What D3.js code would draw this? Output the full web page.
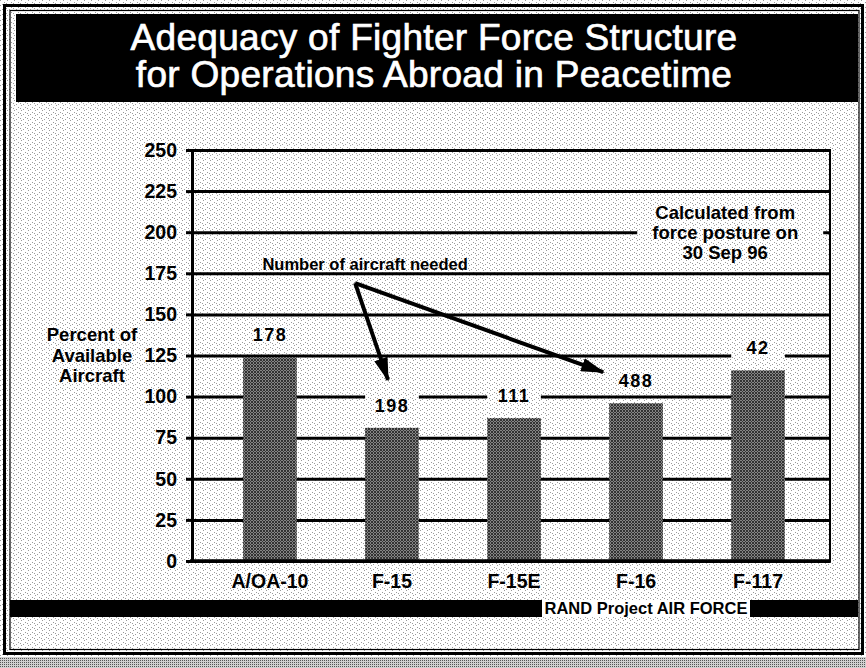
<!DOCTYPE html>
<html>
<head>
<meta charset="utf-8">
<script src="https://cdn.jsdelivr.net/npm/d3@7/dist/d3.min.js"></script>
<style>
  body { margin: 0; background: #fff; }
  svg { display: block; font-family: "Liberation Sans", Arial, Helvetica, sans-serif; }
  .tick text { font-weight: bold; font-size: 19.5px; fill: #000; }
</style>
</head>
<body>
<div id="chart"></div>
<script>
// values
const categories = ["A/OA-10", "F-15", "F-15E", "F-16", "F-117"];
const percentAvailable = [124, 81, 87, 96, 116];
const aircraftNeeded = [178, 198, 111, 488, 42];
const yTicks = [0, 25, 50, 75, 100, 125, 150, 175, 200, 225, 250];
const titleLines = ["Adequacy of Fighter Force Structure", "for Operations Abroad in Peacetime"];
const yLabelLines = ["Percent of", "Available", "Aircraft"];
const noteLines = ["Calculated from", "force posture on", "30 Sep 96"];
const arrowNote = "Number of aircraft needed";
const footer = "RAND Project AIR FORCE";

const W = 866, H = 668;
const plot = {left: 192, right: 830, top: 150, bottom: 561};

const svg = d3.select("#chart").append("svg")
  .attr("width", W)
  .attr("height", H);

const defs = svg.append("defs");

// light halftone speckle of the scanned slide
let speck = defs.append("pattern")
  .attr("id", "speck")
  .attr("patternUnits", "userSpaceOnUse")
  .attr("width", 7).attr("height", 5);
speck.append("rect").attr("width", 7).attr("height", 5).attr("fill", "#fff");
[[0, 0], [4, 2], [2, 4], [6, 3]].forEach(function(p) {
  speck.append("rect").attr("x", p[0]).attr("y", p[1])
    .attr("width", 1).attr("height", 1).attr("fill", "#9a9a9a");
});

// dithered bar fill
let dither = defs.append("pattern")
  .attr("id", "dither")
  .attr("patternUnits", "userSpaceOnUse")
  .attr("width", 3).attr("height", 3);
dither.append("rect").attr("width", 3).attr("height", 3).attr("fill", "#858585");
[[0, 0], [1, 1], [2, 2], [2, 0], [0, 2]].forEach(function(p) {
  dither.append("rect").attr("x", p[0]).attr("y", p[1])
    .attr("width", 1).attr("height", 1).attr("fill", "#333");
});

let darkBand = defs.append("pattern")
  .attr("id", "darkband")
  .attr("patternUnits", "userSpaceOnUse")
  .attr("width", 2).attr("height", 2);
darkBand.append("rect").attr("width", 2).attr("height", 2).attr("fill", "#d0d0d0");
darkBand.append("rect").attr("width", 1).attr("height", 1).attr("fill", "#555");

let arrow = defs.append("marker")
  .attr("id", "arrowhead")
  .attr("markerUnits", "userSpaceOnUse")
  .attr("viewBox", "0 0 24 14")
  .attr("refX", 22).attr("refY", 7)
  .attr("markerWidth", 24).attr("markerHeight", 14)
  .attr("orient", "auto");
arrow.append("path").attr("d", "M0,0 L24,7 L0,14 Z").attr("fill", "#000");

// background and frame
svg.append("rect").attr("width", W).attr("height", H).attr("fill", "url(#speck)");
svg.append("rect").attr("x", 0).attr("y", 657).attr("width", W).attr("height", 11)
  .attr("fill", "url(#darkband)");
svg.append("rect").attr("x", 4.5).attr("y", 5.5).attr("width", 858).attr("height", 648)
  .attr("fill", "none").attr("stroke", "#000").attr("stroke-width", 3);
svg.append("rect").attr("x", 10).attr("y", 10.5).attr("width", 849).attr("height", 639)
  .attr("fill", "none").attr("stroke", "#000").attr("stroke-width", 1.2);

// title block
svg.append("rect").attr("x", 16).attr("y", 14).attr("width", 842).attr("height", 88)
  .attr("fill", "#000");
svg.append("g").selectAll("text")
  .data(titleLines)
  .enter().append("text")
    .attr("x", 434)
    .attr("y", function(d, i) { return 50 + i * 37; })
    .attr("text-anchor", "middle")
    .attr("fill", "#fff")
    .attr("stroke", "#fff")
    .attr("stroke-width", 0.7)
    .attr("font-size", 37)
    .attr("letter-spacing", 0.3)
    .text(function(d) { return d; });

// scales
const x = d3.scaleBand()
  .domain(categories)
  .range([196, 832])
  .paddingInner(0.56)
  .paddingOuter(0.386);
const y = d3.scaleLinear()
  .domain([0, 250])
  .range([plot.bottom, plot.top]);

const bars = categories.map(function(c, i) {
  return {name: c, value: percentAvailable[i], needed: aircraftNeeded[i]};
});

// gridlines
svg.append("g")
  .attr("class", "grid")
  .attr("transform", "translate(" + plot.left + ",0)")
  .call(d3.axisLeft(y).tickValues(yTicks).tickSize(-(plot.right - plot.left)).tickFormat(""))
  .call(function(g) { g.select(".domain").remove(); })
  .selectAll("line")
    .attr("stroke", "#000")
    .attr("stroke-width", 3);

// box behind the posture note breaks the 200 line
const noteX = x("F-117") - 6;
svg.append("rect")
  .attr("x", noteX - 88).attr("y", y(214))
  .attr("width", 186).attr("height", y(180) - y(214))
  .attr("fill", "url(#speck)");
svg.append("g").selectAll("text")
  .data(noteLines)
  .enter().append("text")
    .attr("x", noteX)
    .attr("y", function(d, i) { return y(208) + i * 20; })
    .attr("text-anchor", "middle")
    .attr("font-weight", "bold")
    .attr("font-size", 18.5)
    .text(function(d) { return d; });

// bars
svg.append("g").selectAll("rect")
  .data(bars)
  .enter().append("rect")
    .attr("x", function(d) { return x(d.name); })
    .attr("y", function(d) { return y(d.value); })
    .attr("width", x.bandwidth())
    .attr("height", function(d) { return y(0) - y(d.value); })
    .attr("fill", "url(#dither)");

// aircraft-needed labels sit on a blank patch that hides the gridline
let labels = svg.append("g");
labels.selectAll("rect")
  .data(bars)
  .enter().append("rect")
    .attr("x", function(d) { return x(d.name); })
    .attr("y", function(d) { return y(d.value) - 33; })
    .attr("width", x.bandwidth())
    .attr("height", 21)
    .attr("fill", "url(#speck)");
labels.selectAll("text")
  .data(bars)
  .enter().append("text")
    .attr("x", function(d) { return x(d.name) + x.bandwidth() / 2; })
    .attr("y", function(d) { return y(d.value) - 16; })
    .attr("text-anchor", "middle")
    .attr("font-weight", "bold")
    .attr("font-size", 18)
    .attr("letter-spacing", 1.5)
    .text(function(d) { return d.needed; });

// axes
svg.append("g")
  .attr("class", "axis axis--y")
  .attr("transform", "translate(" + plot.left + ",0)")
  .call(d3.axisLeft(y).tickValues(yTicks).tickSize(6).tickPadding(9))
  .call(function(g) {
    g.select(".domain").attr("stroke-width", 3);
    g.selectAll(".tick line").attr("stroke-width", 3);
  });

svg.append("g")
  .attr("class", "axis axis--x")
  .attr("transform", "translate(0," + plot.bottom + ")")
  .call(d3.axisBottom(x).tickSize(0).tickPadding(13))
  .call(function(g) {
    g.select(".domain").remove();
    g.selectAll(".tick text").attr("font-size", 18.5).attr("dy", "0.71em");
  });

svg.append("line")
  .attr("x1", plot.left - 2).attr("x2", plot.right + 1)
  .attr("y1", plot.bottom).attr("y2", plot.bottom)
  .attr("stroke", "#000").attr("stroke-width", 3.5);
svg.append("line")
  .attr("x1", plot.right).attr("x2", plot.right)
  .attr("y1", plot.top - 1).attr("y2", plot.bottom)
  .attr("stroke", "#000").attr("stroke-width", 2);

// y axis title
svg.append("g").selectAll("text")
  .data(yLabelLines)
  .enter().append("text")
    .attr("x", 92)
    .attr("y", function(d, i) { return 341 + i * 20.5; })
    .attr("text-anchor", "middle")
    .attr("font-weight", "bold")
    .attr("font-size", 18.5)
    .text(function(d) { return d; });

// callout arrows
const apex = [x("F-15") - 10, y(169)];
const tips = [
  [x("F-15") + x.bandwidth() / 2 - 4, y(percentAvailable[1]) - 48],
  [x("F-16") - 6, y(percentAvailable[3]) - 31]
];
svg.append("text")
  .attr("x", x("F-15"))
  .attr("y", y(175) - 3)
  .attr("text-anchor", "middle")
  .attr("font-weight", "bold")
  .attr("font-size", 16.5)
  .text(arrowNote);
svg.append("g").selectAll("line")
  .data(tips)
  .enter().append("line")
    .attr("x1", apex[0]).attr("y1", apex[1])
    .attr("x2", function(d) { return d[0]; })
    .attr("y2", function(d) { return d[1]; })
    .attr("stroke", "#000")
    .attr("stroke-width", 4)
    .attr("marker-end", "url(#arrowhead)");

// footer band
svg.append("rect").attr("x", 10).attr("y", 600).attr("width", 848).attr("height", 17)
  .attr("fill", "#000");
svg.append("rect").attr("x", 542).attr("y", 600).attr("width", 208).attr("height", 17)
  .attr("fill", "#fff");
svg.append("text")
  .attr("x", 646).attr("y", 614)
  .attr("text-anchor", "middle")
  .attr("font-weight", "bold")
  .attr("font-size", 16.5)
  .text(footer);
</script>
</body>
</html>
